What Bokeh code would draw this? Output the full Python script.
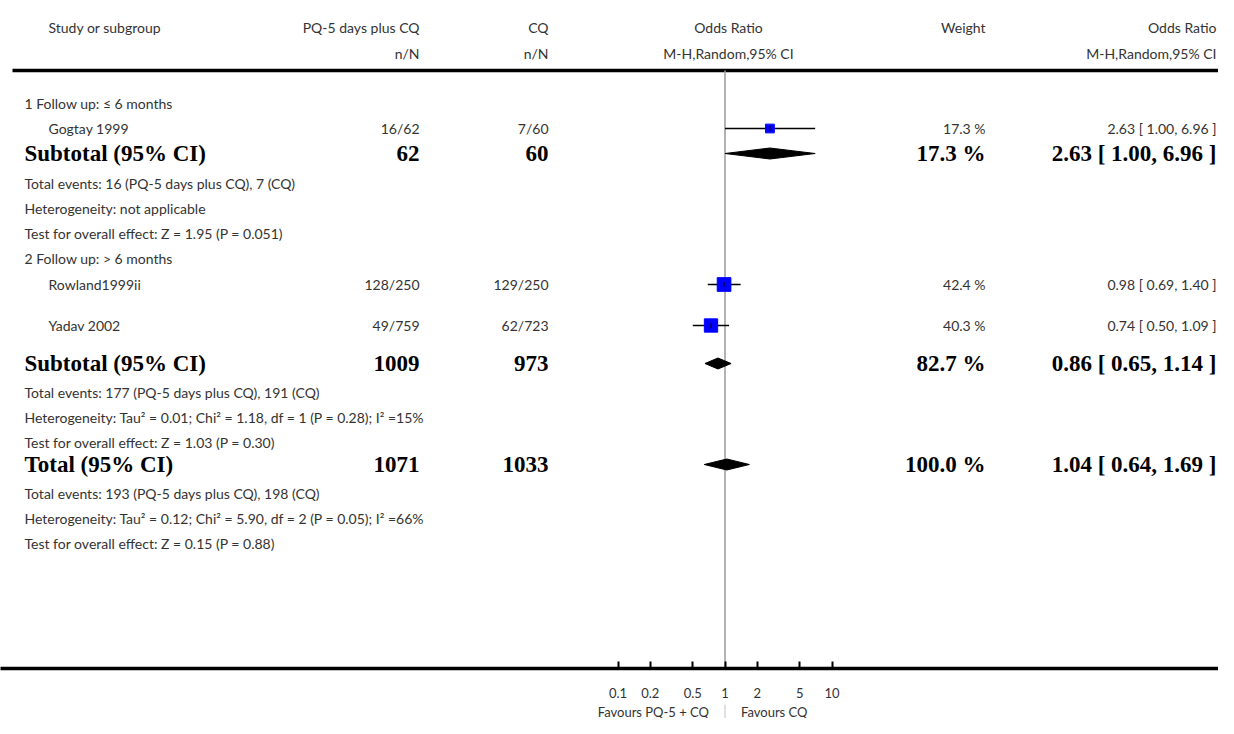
import math
from bokeh.plotting import figure
from bokeh.layouts import column
from bokeh.models import Range1d, LinearScale, FixedTicker, LogAxis
from bokeh.core.properties import value
from bokeh.embed import file_html
from bokeh.resources import INLINE

# ---------------- data ----------------
group_labels = ["1 Follow up: \u2264 6 months", "2 Follow up: > 6 months"]

studies = ["Gogtay 1999", "Rowland1999ii", "Yadav 2002"]
events_t = [16, 128, 49]
total_t = [62, 250, 759]
events_c = [7, 129, 62]
total_c = [60, 250, 723]
study_or = [2.63, 0.98, 0.74]
study_lo = [1.00, 0.69, 0.50]
study_hi = [6.96, 1.40, 1.09]
study_weight = [17.3, 42.4, 40.3]

sub_total_t = [62, 1009]
sub_total_c = [60, 973]
sub_or = [2.63, 0.86]
sub_lo = [1.00, 0.65]
sub_hi = [6.96, 1.14]
sub_weight = [17.3, 82.7]
sub_events = ["Total events: 16 (PQ-5 days plus CQ), 7 (CQ)",
              "Total events: 177 (PQ-5 days plus CQ), 191 (CQ)"]
sub_het = ["Heterogeneity: not applicable",
           "Heterogeneity: Tau\u00b2 = 0.01; Chi\u00b2 = 1.18, df = 1 (P = 0.28); I\u00b2 =15%"]
sub_test = ["Test for overall effect: Z = 1.95 (P = 0.051)",
            "Test for overall effect: Z = 1.03 (P = 0.30)"]

tot_total_t = 1071
tot_total_c = 1033
tot_or = 1.04
tot_lo = 0.64
tot_hi = 1.69
tot_weight = 100.0
tot_events = "Total events: 193 (PQ-5 days plus CQ), 198 (CQ)"
tot_het = "Heterogeneity: Tau\u00b2 = 0.12; Chi\u00b2 = 5.90, df = 2 (P = 0.05); I\u00b2 =66%"
tot_test = "Test for overall effect: Z = 0.15 (P = 0.88)"

tick_values = [0.1, 0.2, 0.5, 1, 2, 5, 10]
tick_labels = ["0.1", "0.2", "0.5", "1", "2", "5", "10"]

header1 = ["Study or subgroup", "PQ-5 days plus CQ", "CQ", "Odds Ratio", "Weight", "Odds Ratio"]
header2 = ["", "n/N", "n/N", "M-H,Random,95% CI", "", "M-H,Random,95% CI"]
favours = ["Favours PQ-5 + CQ", "Favours CQ"]

# ---------------- layout (canvas pixels) ----------------
W, FRAME_H, BOTTOM, FAV_H = 1218, 668, 36, 14
X_INDENT1, X_INDENT2 = 24, 48
X_T, X_C, X_FOREST, X_W, X_OR = 419, 548, 728, 985, 1216
Y_H1, Y_H2, Y_RULE = 27, 53, 70

group_rows = [
    dict(head=103, studies=[128], sub=153, ev=183, het=208, test=233),
    dict(head=258, studies=[284, 325], sub=363, ev=392, het=417, test=442),
]
tot_rows = dict(sub=464, ev=493, het=518, test=543)

# log scale: OR = 1 at canvas x 724.5, 107 px per decade
ONE_X, DEC = 724.5, 107.0
lmin = -ONE_X / DEC
lmax = lmin + W / DEC

p = figure(frame_width=W, frame_height=FRAME_H, x_axis_type="log",
           x_range=Range1d(10 ** lmin, 10 ** lmax),
           y_range=Range1d(FRAME_H, 0),
           x_axis_location=None, y_axis_location=None,
           toolbar_location=None, output_backend="svg",
           min_border_left=0, min_border_right=0, min_border_top=0,
           min_border_bottom=BOTTOM, outline_line_color=None)
p.grid.visible = False
p.extra_x_ranges = {"px": Range1d(0, W)}
p.extra_x_scales = {"px": LinearScale()}

FONT = value("Lato")
SERIF = value("Liberation Serif")
REG = dict(text_font=FONT, text_font_size="14px", text_color="#333333",
           text_baseline="middle", x_range_name="px")
BOLD = dict(text_font=SERIF, text_font_size="23px", text_font_style="bold",
            text_color="black", text_baseline="middle", x_range_name="px")


def txt(x, y, t, align, style):
    p.text(x=[x], y=[y], text=[t], text_align=align, **style)


def ci_str(o, l, h):
    return "%.2f [ %.2f, %.2f ]" % (o, l, h)


# header
aligns = ["left", "right", "right", "center", "right", "right"]
xs_h = [X_INDENT2, X_T, X_C, X_FOREST, X_W, X_OR]
for x, a, t1, t2 in zip(xs_h, aligns, header1, header2):
    txt(x, Y_H1, t1, a, REG)
    if t2:
        txt(x, Y_H2, t2, a, REG)

p.segment(x0=[12], x1=[W], y0=[Y_RULE], y1=[Y_RULE],
          line_color="black", line_width=3.5, x_range_name="px")
# line of no effect
p.segment(x0=[1], x1=[1], y0=[Y_RULE], y1=[FRAME_H], line_color="#9a9a9a", line_width=1.5)


def diamond(o, l, h, y):
    p.patch(x=[l, o, h, o], y=[y, y - 5.5, y, y + 5.5], fill_color="black", line_color="black")


si = 0
for g, rows in enumerate(group_rows):
    txt(X_INDENT1, rows["head"], group_labels[g], "left", REG)
    for y in rows["studies"]:
        i = si
        si += 1
        txt(X_INDENT2, y, studies[i], "left", REG)
        txt(X_T, y, "%d/%d" % (events_t[i], total_t[i]), "right", REG)
        txt(X_C, y, "%d/%d" % (events_c[i], total_c[i]), "right", REG)
        txt(X_W, y, "%.1f %%" % study_weight[i], "right", REG)
        txt(X_OR, y, ci_str(study_or[i], study_lo[i], study_hi[i]), "right", REG)
        p.segment(x0=[study_lo[i]], x1=[study_hi[i]], y0=[y], y1=[y], line_color="black", line_width=1.3)
        p.scatter(x=[study_or[i]], y=[y], size=[2.1 * math.sqrt(study_weight[i])], marker="square",
                  fill_color="#0000ff", line_color="#0000ff")
        p.scatter(x=[study_or[i]], y=[y], size=5, marker="dash", angle=math.pi / 2, line_color="black")
    ys = rows["sub"]
    txt(X_INDENT1, ys, "Subtotal (95% CI)", "left", BOLD)
    txt(X_T, ys, str(sub_total_t[g]), "right", BOLD)
    txt(X_C, ys, str(sub_total_c[g]), "right", BOLD)
    txt(X_W, ys, "%.1f %%" % sub_weight[g], "right", BOLD)
    txt(X_OR, ys, ci_str(sub_or[g], sub_lo[g], sub_hi[g]), "right", BOLD)
    diamond(sub_or[g], sub_lo[g], sub_hi[g], ys)
    txt(X_INDENT1, rows["ev"], sub_events[g], "left", REG)
    txt(X_INDENT1, rows["het"], sub_het[g], "left", REG)
    txt(X_INDENT1, rows["test"], sub_test[g], "left", REG)

ys = tot_rows["sub"]
txt(X_INDENT1, ys, "Total (95% CI)", "left", BOLD)
txt(X_T, ys, str(tot_total_t), "right", BOLD)
txt(X_C, ys, str(tot_total_c), "right", BOLD)
txt(X_W, ys, "%.1f %%" % tot_weight, "right", BOLD)
txt(X_OR, ys, ci_str(tot_or, tot_lo, tot_hi), "right", BOLD)
diamond(tot_or, tot_lo, tot_hi, ys)
txt(X_INDENT1, tot_rows["ev"], tot_events, "left", REG)
txt(X_INDENT1, tot_rows["het"], tot_het, "left", REG)
txt(X_INDENT1, tot_rows["test"], tot_test, "left", REG)

# axis
ax = LogAxis(ticker=FixedTicker(ticks=tick_values, minor_ticks=[]))
ax.major_label_overrides = {v: l for v, l in zip(tick_values, tick_labels)}
ax.axis_line_width = 3.5
ax.axis_line_color = "black"
ax.major_tick_in = 7
ax.major_tick_out = 0
ax.major_tick_line_width = 2
ax.minor_tick_in = 0
ax.minor_tick_out = 0
ax.major_label_standoff = 19
ax.major_label_text_font = "Lato"
ax.major_label_text_font_size = "13px"
ax.major_label_text_color = "#333333"
p.add_layout(ax, "below")

# strip with the "favours" captions, sharing the log x range
p2 = figure(frame_width=W, frame_height=FAV_H, x_axis_type="log", x_range=p.x_range,
            y_range=Range1d(0, 1), x_axis_location=None, y_axis_location=None,
            toolbar_location=None, output_backend="svg",
            min_border_left=0, min_border_right=0, min_border_top=0, min_border_bottom=0,
            outline_line_color=None)
p2.grid.visible = False
p2.segment(x0=[1], x1=[1], y0=[0], y1=[1], line_color="#d6d6d6", line_width=1.5)
FAV = dict(text_font=FONT, text_font_size="13px", text_color="#333333", text_baseline="middle")
p2.text(x=[1], y=[0.5], text=[favours[0]], x_offset=-16, text_align="right", **FAV)
p2.text(x=[1], y=[0.5], text=[favours[1]], x_offset=16, text_align="left", **FAV)

layout = column(p, p2, spacing=0)
open("out.html", "w").write(file_html(layout, INLINE))
